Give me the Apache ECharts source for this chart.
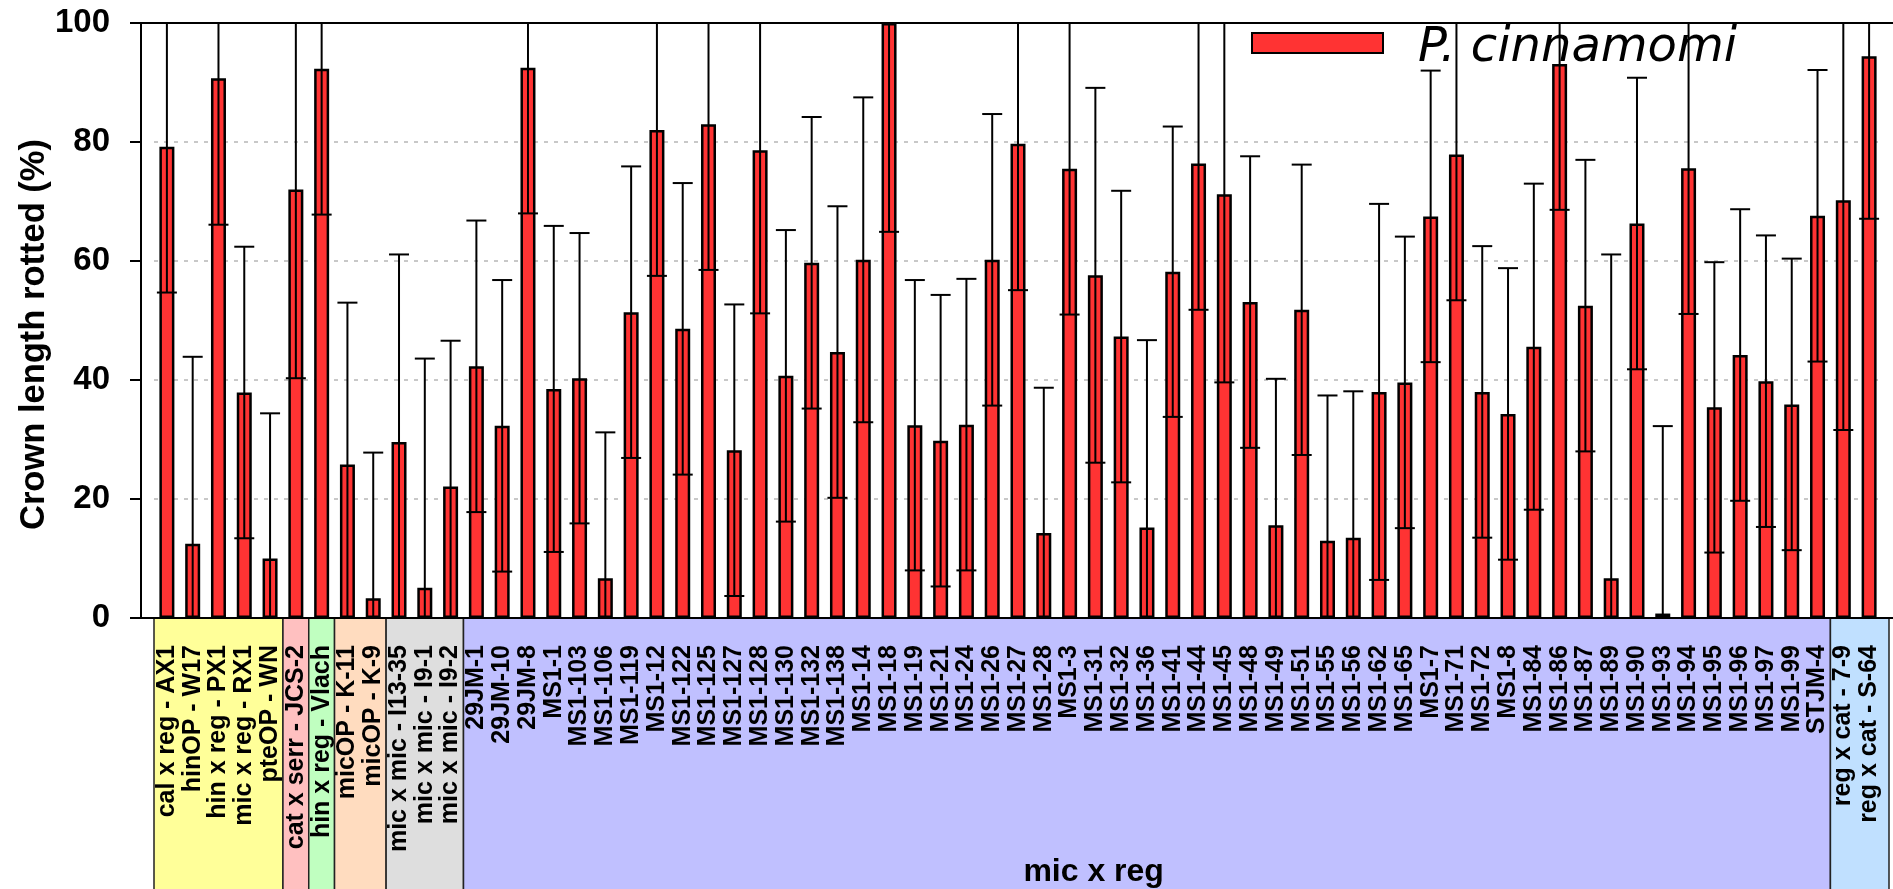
<!DOCTYPE html>
<html><head><meta charset="utf-8">
<script src="https://cdn.jsdelivr.net/npm/echarts@6/dist/echarts.min.js"></script>
<style>html,body{margin:0;padding:0;background:#fff}#c{width:1893px;height:889px}</style>
</head><body><div id="c"></div>
<script>
const categories = ["cal x reg - AX1","hinOP - W17","hin x reg - PX1","mic x reg - RX1","pteOP - WN","cat x serr - JCS-2","hin x reg - Vlach","micOP - K-11","micOP - K-9","mic x mic - I13-35","mic x mic - I9-1","mic x mic - I9-2","29JM-1","29JM-10","29JM-8","MS1-1","MS1-103","MS1-106","MS1-119","MS1-12","MS1-122","MS1-125","MS1-127","MS1-128","MS1-130","MS1-132","MS1-138","MS1-14","MS1-18","MS1-19","MS1-21","MS1-24","MS1-26","MS1-27","MS1-28","MS1-3","MS1-31","MS1-32","MS1-36","MS1-41","MS1-44","MS1-45","MS1-48","MS1-49","MS1-51","MS1-55","MS1-56","MS1-62","MS1-65","MS1-7","MS1-71","MS1-72","MS1-8","MS1-84","MS1-86","MS1-87","MS1-89","MS1-90","MS1-93","MS1-94","MS1-95","MS1-96","MS1-97","MS1-99","STJM-4","reg x cat - 7-9","reg x cat - S-64"];
const values = [79.2,12.5,90.7,37.9,10.0,72.0,92.3,25.8,3.3,29.6,5.1,22.1,42.3,32.3,92.5,38.5,40.3,6.7,51.4,82.0,48.6,83.0,28.2,78.6,40.7,59.7,44.7,60.2,100,32.4,29.8,32.5,60.2,79.7,14.3,75.5,57.6,47.3,15.2,58.2,76.4,71.2,53.1,15.6,51.8,13.0,13.5,38.0,39.6,67.5,77.9,38.0,34.3,45.6,93.1,52.5,6.7,66.3,0.75,75.6,35.4,44.2,39.8,35.9,67.6,70.2,94.4];
const errors = [24.5,31.4,24.6,24.5,24.4,31.7,24.5,27.2,24.5,31.5,38.5,24.5,24.5,24.5,24.5,27.4,24.4,24.5,24.5,24.5,24.5,24.5,24.5,27.4,24.5,24.5,24.5,27.3,35.1,24.4,24.5,24.5,24.5,24.6,24.4,24.5,31.5,24.5,31.5,24.4,24.6,31.6,24.5,24.6,24.4,24.4,24.6,31.6,24.5,24.5,24.5,24.5,24.5,27.4,24.5,24.5,54.4,24.5,31.5,24.5,24.4,24.5,24.5,24.5,24.5,38.6,27.3];
const groupSizes = [5,1,1,2,3,53,2];
const groupColors = ['#ffff99','#ffc0c0','#c0ffc0','#ffdcbf','#dedede','#c0c0ff','#c0e0ff'];
const groupLabels = ['','','','','','mic x reg',''];
const yTicks = [0,20,40,60,80,100];
const seriesName = 'P. cinnamomi';
const yTitle = 'Crown length rotted (%)';

const chart = echarts.init(document.getElementById('c'), null, {renderer:'canvas'});
const errData = values.map((v,i)=>[i, v-errors[i], v+errors[i]]);

chart.setOption({
  animation:false,
  grid:{left:154, right:11, top:23, bottom:271},
  legend:{data:[{name:seriesName, icon:'rect'}], left:1251, top:25, padding:0, itemWidth:131, itemHeight:20,
    formatter:'{t|{name}}',
    textStyle:{color:'#000', rich:{t:{fontFamily:'DejaVu Sans', fontStyle:'italic', fontSize:48, color:'#000', padding:[12,0,0,30]}}}},
  xAxis:{type:'category', data:categories,
    axisLine:{lineStyle:{color:'#000', width:2}},
    axisTick:{alignWithLabel:true, length:11, lineStyle:{color:'#000', width:1.5}},
    axisLabel:{interval:0, rotate:90, margin:27, fontFamily:'Liberation Sans', fontWeight:'bold', fontSize:25, color:'#000'}},
  yAxis:{type:'value', min:yTicks[0], max:yTicks[yTicks.length-1], interval:yTicks[1]-yTicks[0], offset:13,
    axisLine:{show:true, lineStyle:{color:'#000', width:2}},
    axisTick:{show:true, length:11, lineStyle:{color:'#000', width:2}},
    axisLabel:{margin:31, fontFamily:'Liberation Sans', fontWeight:'bold', fontSize:33, color:'#000'},
    splitLine:{show:true, lineStyle:{type:[4,6], color:'#c8c8c8', width:2}}},
  series:[
    {type:'bar', name:seriesName, data:values, barWidth:15, z:2,
     itemStyle:{color:'#ff3333', borderColor:'#000', borderWidth:2.5}},
    {type:'custom', name:'err', data:errData, z:3, encode:{x:0, y:[1,2]},
     renderItem:function(params, api){
       const cs = params.coordSys;
       const top = cs.y, bottom = cs.y + cs.height;
       const i = api.value(0);
       const lo = api.coord([i, api.value(1)]);
       const hi = api.coord([i, api.value(2)]);
       const half = 10;
       const style = {stroke:'#000', lineWidth:2};
       const yHi = Math.max(hi[1], top), yLo = Math.min(lo[1], bottom);
       const ch = [{type:'line', shape:{x1:lo[0], y1:yLo, x2:hi[0], y2:yHi}, style:style}];
       if (hi[1] >= top) ch.push({type:'line', shape:{x1:hi[0]-half, y1:hi[1], x2:hi[0]+half, y2:hi[1]}, style:style});
       if (lo[1] <= bottom) ch.push({type:'line', shape:{x1:lo[0]-half, y1:lo[1], x2:lo[0]+half, y2:lo[1]}, style:style});
       return {type:'group', children:ch};
     }}
  ]
});

(function drawDecor(){
  const x0 = chart.convertToPixel({xAxisIndex:0}, 0);
  const x1 = chart.convertToPixel({xAxisIndex:0}, 1);
  const bw = x1 - x0;
  const yBase = chart.convertToPixel({yAxisIndex:0}, yTicks[0]);
  const yTop = chart.convertToPixel({yAxisIndex:0}, yTicks[yTicks.length-1]);
  const W = chart.getWidth(), H = chart.getHeight();
  const elements = [];
  let start = 0;
  groupSizes.forEach(function(n, g){
    const left = x0 - bw/2 + start*bw;
    let right = x0 - bw/2 + (start+n)*bw;
    if (g === groupSizes.length-1) right += 7;
    elements.push({type:'rect', z:-1, silent:true, shape:{x:left, y:yBase, width:right-left, height:H-yBase+10},
      style:{fill:groupColors[g], stroke:'#222', lineWidth:1.5}});
    if (groupLabels[g]) elements.push({type:'text', z:10, silent:true, x:left+(right-left)*0.461, y:872,
      style:{text:groupLabels[g], font:'bold 32px "Liberation Sans"', fill:'#000', align:'center', verticalAlign:'middle'}});
    start += n;
  });
  const axisX = 154 - 13 - 11;
  elements.push({type:'line', z:5, silent:true, shape:{x1:axisX, y1:yBase, x2:W, y2:yBase}, style:{stroke:'#000', lineWidth:2}});
  elements.push({type:'line', z:5, silent:true, shape:{x1:axisX, y1:yTop, x2:W, y2:yTop}, style:{stroke:'#000', lineWidth:2}});
  elements.push({type:'text', z:10, silent:true, x:34, y:(yTop+yBase)/2+14, rotation:Math.PI/2,
    style:{text:yTitle, font:'bold 34.5px "Liberation Sans"', fill:'#000', align:'center', verticalAlign:'middle'}});
  chart.setOption({graphic:{elements:elements}});
})();
</script>
</body></html>
